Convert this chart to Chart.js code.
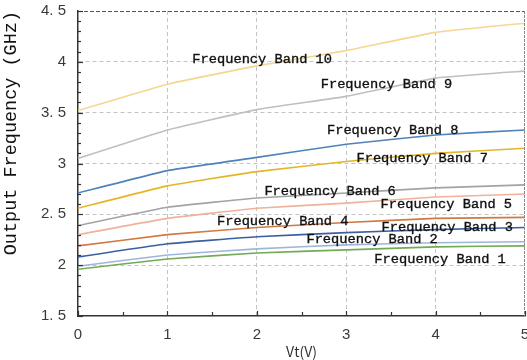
<!DOCTYPE html>
<html>
<head>
<meta charset="utf-8">
<script src="https://cdn.jsdelivr.net/npm/chart.js@4/dist/chart.umd.min.js"></script>
<style>
  html, body { margin: 0; padding: 0; background: #fff; }
  #wrap { width: 527px; height: 360px; }
</style>
</head>
<body>
<div id="wrap"><canvas id="c" width="527" height="360"></canvas></div>
<script>
// Tuning voltage (V)
const vt = [0, 1, 2, 3, 4, 5];

// Output frequency (GHz) of each band
const band1  = [1.96, 2.06, 2.12, 2.15, 2.18, 2.19];
const band2  = [1.99, 2.10, 2.16, 2.20, 2.22, 2.23];
const band3  = [2.08, 2.21, 2.28, 2.32, 2.35, 2.37];
const band4  = [2.19, 2.30, 2.37, 2.42, 2.46, 2.47];
const band5  = [2.30, 2.46, 2.56, 2.61, 2.67, 2.70];
const band6  = [2.39, 2.57, 2.66, 2.71, 2.76, 2.79];
const band7  = [2.56, 2.78, 2.92, 3.02, 3.10, 3.15];
const band8  = [2.71, 2.93, 3.06, 3.19, 3.28, 3.33];
const band9  = [3.05, 3.33, 3.53, 3.66, 3.84, 3.91];
const band10 = [3.52, 3.78, 3.96, 4.11, 4.29, 4.38];

const bandNames = [
  'Frequency Band 1', 'Frequency Band 2', 'Frequency Band 3', 'Frequency Band 4',
  'Frequency Band 5', 'Frequency Band 6', 'Frequency Band 7', 'Frequency Band 8',
  'Frequency Band 9', 'Frequency Band 10'
];
const bandValues = [band1, band2, band3, band4, band5, band6, band7, band8, band9, band10];

// Where each band's name sits, in axis units (V, GHz)
const nameAnchorVt  = [4.05, 3.29, 4.13, 2.29, 4.12, 2.82, 3.85, 3.52, 3.45, 2.06];
const nameAnchorGHz = [2.06, 2.25, 2.37, 2.43, 2.60, 2.73, 3.05, 3.33, 3.78, 4.02];

const xTicks = [0, 1, 2, 3, 4, 5];
const yTicks = [1.5, 2, 2.5, 3, 3.5, 4, 4.5];

const bandColors = [
  '#72ab55', '#9fb5dd', '#3c5fa3', '#d27843', '#f1b19b',
  '#a3a3a3', '#e4b626', '#4f83b9', '#bfbfbf', '#f5d692'
];

const datasets = bandValues.map((vals, i) => ({
  label: bandNames[i],
  data: vals.map((v, k) => ({ x: vt[k], y: v })),
  borderColor: bandColors[i],
  backgroundColor: bandColors[i],
  borderWidth: 1.6,
  pointRadius: 0,
  tension: 0.1,
  fill: false
}));

const monoFont = '"Liberation Mono", "DejaVu Sans Mono", monospace';

// Frame, inward minor ticks and the band names
const decorations = {
  id: 'decorations',
  afterDraw(chart) {
    const { ctx, chartArea: a, scales: { x, y } } = chart;
    ctx.save();
    // top edge: dashed
    ctx.strokeStyle = '#555';
    ctx.lineWidth = 1;
    ctx.setLineDash([4, 2]);
    ctx.beginPath();
    ctx.moveTo(a.left, a.top + 0.5);
    ctx.lineTo(a.right, a.top + 0.5);
    ctx.stroke();
    // right edge
    ctx.strokeStyle = '#888';
    ctx.setLineDash([3, 1]);
    ctx.beginPath();
    ctx.moveTo(a.right - 0.5, a.top);
    ctx.lineTo(a.right - 0.5, a.bottom);
    ctx.stroke();
    ctx.setLineDash([]);

    // y minor ticks every 0.1, pointing right
    ctx.strokeStyle = '#333';
    ctx.lineWidth = 1.2;
    for (let k = Math.round(y.min * 10); k <= Math.round(y.max * 10); k++) {
      const py = Math.round(y.getPixelForValue(k / 10)) + 0.5;
      const len = (k % 5 === 0) ? 5 : 3;
      ctx.beginPath();
      ctx.moveTo(a.left, py);
      ctx.lineTo(a.left + len, py);
      ctx.stroke();
    }
    // x minor ticks every 0.5, pointing up
    for (let k = Math.round(x.min * 2); k <= Math.round(x.max * 2); k++) {
      const px = Math.round(x.getPixelForValue(k / 2)) + 0.5;
      const len = (k % 2 === 0) ? 5 : 4;
      ctx.beginPath();
      ctx.moveTo(px, a.bottom);
      ctx.lineTo(px, a.bottom - len);
      ctx.stroke();
    }

    // band names, slightly emboldened
    ctx.fillStyle = '#111';
    ctx.strokeStyle = '#111';
    ctx.lineWidth = 0.35;
    ctx.font = '13.7px ' + monoFont;
    ctx.textAlign = 'center';
    ctx.textBaseline = 'middle';
    bandNames.forEach((name, i) => {
      const px = x.getPixelForValue(nameAnchorVt[i]);
      const py = y.getPixelForValue(nameAnchorGHz[i]);
      ctx.fillText(name, px, py);
      ctx.strokeText(name, px, py);
    });
    ctx.restore();
  }
};

const edgeTransparent = (ctx, lo, hi) => {
  const v = ctx.tick ? ctx.tick.value : null;
  if (v === null || Math.abs(v - lo) < 1e-6 || Math.abs(v - hi) < 1e-6) return 'rgba(0,0,0,0)';
  return '#c4c4c4';
};

new Chart(document.getElementById('c'), {
  type: 'line',
  data: { datasets },
  options: {
    responsive: false,
    animation: false,
    layout: { padding: { top: 11, right: 2, left: 0, bottom: 0 } },
    plugins: { legend: { display: false }, tooltip: { enabled: false } },
    scales: {
      x: {
        type: 'linear',
        min: 0, max: 5,
        afterBuildTicks: s => { s.ticks = xTicks.map(v => ({ value: v })); },
        afterFit: s => { s.height = 44; s.paddingLeft = 0; s.paddingRight = 0; },
        border: { display: true, color: '#333', width: 1.5, dash: [4, 3] },
        grid: {
          drawTicks: false,
          color: c => edgeTransparent(c, 0, 5),
          lineWidth: 1
        },
        ticks: {
          padding: 10,
          color: '#3a3a3a',
          font: { family: 'Arial, "Liberation Sans", sans-serif', size: 15 },
          maxRotation: 0,
          callback: v => String(v)
        },
        title: {
          display: true,
          text: 'Vt(V)',
          color: '#333',
          padding: { top: -4, bottom: 0 },
          font: { family: '"Noto Sans CJK SC", "DejaVu Sans", sans-serif', size: 14 }
        }
      },
      y: {
        type: 'linear',
        min: 1.5, max: 4.5,
        afterBuildTicks: s => { s.ticks = yTicks.map(v => ({ value: v })); },
        afterFit: s => { s.width = 78; s.paddingTop = 0; s.paddingBottom = 0; },
        border: { display: true, color: '#333', width: 1.5, dash: [4, 3] },
        grid: {
          drawTicks: false,
          color: c => edgeTransparent(c, 1.5, 4.5),
          lineWidth: 1
        },
        ticks: {
          padding: 12,
          color: '#3a3a3a',
          font: { family: 'Arial, "Liberation Sans", sans-serif', size: 15 },
          callback: v => Number.isInteger(v) ? String(v) : v.toFixed(1).replace('.', '. ')
        },
        title: {
          display: true,
          text: 'Output Frequency (GHz)',
          align: 'end',
          color: '#111',
          padding: { top: 0, bottom: 4 },
          font: { family: monoFont, size: 18.5 }
        }
      }
    }
  },
  plugins: [decorations]
});
</script>
</body>
</html>
